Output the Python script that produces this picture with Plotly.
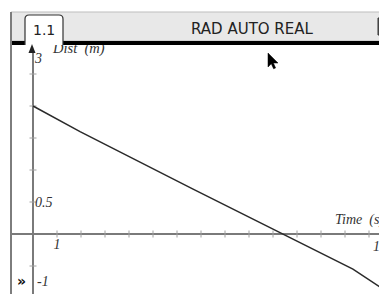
import plotly.graph_objects as go

# ---- data ----
time_s = [0, 1.96, 6.67, 8.21, 10.35, 13.33, 14.75, 15.2]
dist_m = [2.0, 1.60, 0.70, 0.41, 0.0, -0.55, -0.90, -0.98]
x_ticks = list(range(1, 15))
y_ticks = [-0.5, 0.5, 1.0, 1.5, 2.0, 2.5]
x_label = "Time&nbsp;&nbsp;(s)"
y_label = "Dist&nbsp;&nbsp;(m)"
header_text = "RAD AUTO REAL"
tab_text = "1.1"

# ---- geometry (window pixels; page body has an 8px margin) ----
OFF = 8
WIN_W, WIN_H = 387, 294
FW, FH = WIN_W - OFF, WIN_H - OFF
L_WIN, T_WIN = 12, 45          # plot area top-left in window pixels
L, T = L_WIN - OFF, T_WIN - OFF
W, H = FW - L, FH - T
X0PX, XS = 33, 24.0   # window pixel of x=0, px per unit
Y0PX, YS = 234, 64.0  # window pixel of y=0, px per unit

def px(p):  # paper x from window pixel
    return (p - L_WIN) / W

def py(p):  # paper y from window pixel
    return (WIN_H - p) / H

def dx(p):
    return (p - X0PX) / XS

def dy(p):
    return (Y0PX - p) / YS

xr = [dx(L_WIN), dx(WIN_W)]
yr = [dy(WIN_H), dy(T_WIN)]

lab_font = dict(family="Liberation Serif", size=14, color="#333333")

fig = go.Figure()

# axes lines
fig.add_trace(go.Scatter(x=[xr[0], xr[1]], y=[0, 0], mode="lines",
                         line=dict(color="#7a7a7a", width=2), hoverinfo="skip", showlegend=False))
fig.add_trace(go.Scatter(x=[0, 0], y=[yr[0], dy(52)], mode="lines",
                         line=dict(color="#7a7a7a", width=2), hoverinfo="skip", showlegend=False))
# tick marks
fig.add_trace(go.Scatter(x=x_ticks, y=[0] * len(x_ticks), mode="markers",
                         marker=dict(symbol="line-ns", size=5, line=dict(color="#a0a0a0", width=1)),
                         hoverinfo="skip", showlegend=False))
fig.add_trace(go.Scatter(x=[0] * len(y_ticks), y=y_ticks, mode="markers",
                         marker=dict(symbol="line-ew", size=5, line=dict(color="#a0a0a0", width=1)),
                         hoverinfo="skip", showlegend=False))

# data line
fig.add_trace(go.Scatter(x=time_s, y=dist_m, mode="lines",
                         line=dict(color="#2a2a2a", width=1.5), showlegend=False))

# axis labels as clipped text
def txt(x, y, s, pos, font=lab_font):
    fig.add_trace(go.Scatter(x=[x], y=[y], mode="text", text=[s], textposition=pos,
                             textfont=font, cliponaxis=True, hoverinfo="skip", showlegend=False))

txt(dx(35), dy(59), "<i>3</i>", "middle right")
txt(dx(53), dy(49), "<i>" + y_label + "</i>",
    "middle right", dict(family="Liberation Serif", size=14.5, color="#333333"))
txt(dx(35), dy(203), "<i>0.5</i>", "middle right")
txt(1, dy(245), "<i>1</i>", "middle center")
txt(dx(37), dy(282), "<i>-1</i>", "middle right")
txt(dx(335), dy(220), "<i>" + x_label + "</i>", "middle right")
txt(dx(373), dy(247), "<i>15</i>", "middle right")

shapes = []
# header background
shapes.append(dict(type="rect", xref="paper", yref="paper", x0=px(11), x1=px(WIN_W + 2),
                   y0=py(41), y1=py(12), fillcolor="#e8e8e8",
                   line=dict(color="#bdbdbd", width=1), layer="above"))
# black bar left and right of tab
shapes.append(dict(type="rect", xref="paper", yref="paper", x0=px(11), x1=px(25),
                   y0=py(45), y1=py(41), fillcolor="#000000", line=dict(width=0), layer="above"))
shapes.append(dict(type="rect", xref="paper", yref="paper", x0=px(63), x1=px(WIN_W + 2),
                   y0=py(45), y1=py(41), fillcolor="#000000", line=dict(width=0), layer="above"))
# tab
def P(x, y):
    return f"{px(x)},{py(y)}"
tab_path = (f"M {P(25,45)} L {P(25,19)} Q {P(25,15)} {P(29,15)} L {P(59,15)} "
            f"Q {P(63,15)} {P(63,19)} L {P(63,45)}")
shapes.append(dict(type="path", xref="paper", yref="paper", path=tab_path + " Z",
                   fillcolor="#ffffff", line=dict(width=0), layer="above"))
shapes.append(dict(type="path", xref="paper", yref="paper", path=tab_path,
                   line=dict(color="#333333", width=1.2), layer="above"))
# left frame border
shapes.append(dict(type="line", xref="paper", yref="paper", x0=px(11), x1=px(11),
                   y0=py(12), y1=py(WIN_H + 2), line=dict(color="#7d7d7d", width=2), layer="above"))
# battery icon
shapes.append(dict(type="rect", xref="paper", yref="paper", x0=px(378), x1=px(392),
                   y0=py(35), y1=py(18), fillcolor="#555555",
                   line=dict(color="#333333", width=1), layer="above"))
# y-axis arrow head
arrow = f"M {P(32,44)} L {P(28.5,53)} L {P(35.5,53)} Z"
shapes.append(dict(type="path", xref="paper", yref="paper", path=arrow,
                   fillcolor="#222222", line=dict(width=0), layer="above"))
# mouse cursor
cx, cy = 268, 53
cur = [(0, 0), (0, 14), (3.3, 10.8), (5.6, 15.8), (7.6, 14.9), (5.4, 10.0), (10, 10)]
cpath = "M " + " L ".join(P(cx + a, cy + b) for a, b in cur) + " Z"
shapes.append(dict(type="path", xref="paper", yref="paper", path=cpath,
                   fillcolor="#000000", line=dict(color="#000000", width=0.5), layer="above"))

annotations = [
    dict(xref="paper", yref="paper", x=px(252), y=py(29), text=header_text, showarrow=False,
         font=dict(family="DejaVu Sans", size=15, color="#222222"), xanchor="center", yanchor="middle"),
    dict(xref="paper", yref="paper", x=px(44), y=py(30), text=tab_text, showarrow=False,
         font=dict(family="DejaVu Sans", size=14, color="#222222"), xanchor="center", yanchor="middle"),
    dict(xref="paper", yref="paper", x=px(21), y=py(281), text="<b>»</b>", showarrow=False,
         font=dict(family="DejaVu Sans", size=14, color="#111111"), xanchor="center", yanchor="middle"),
]

fig.update_layout(
    width=FW, height=FH,
    margin=dict(l=L, r=0, t=T, b=0, pad=0),
    paper_bgcolor="#ffffff", plot_bgcolor="#ffffff",
    xaxis=dict(range=xr, visible=False, fixedrange=True),
    yaxis=dict(range=yr, visible=False, fixedrange=True),
    shapes=shapes, annotations=annotations,
    showlegend=False,
)

fig.write_html("out.html", config={"displayModeBar": False})
